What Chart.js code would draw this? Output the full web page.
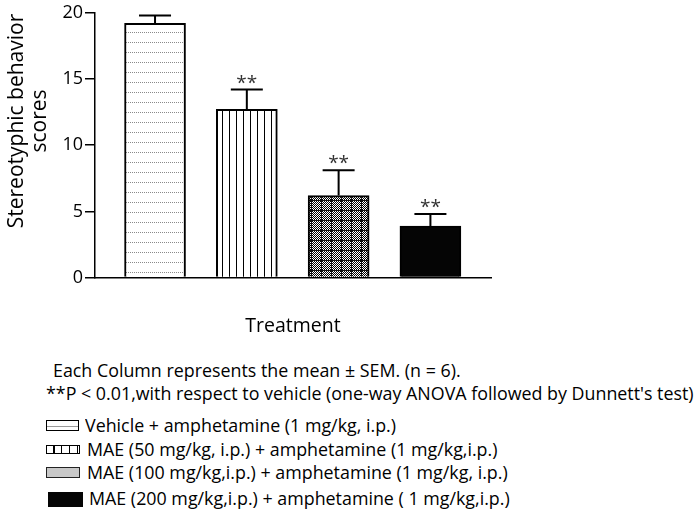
<!DOCTYPE html>
<html>
<head>
<meta charset="utf-8">
<script src="https://cdn.jsdelivr.net/npm/chart.js@4"></script>
<style>
  html, body { margin: 0; padding: 0; background: #fff; }
  #wrap { position: relative; width: 698px; height: 515px; overflow: hidden; font-family: "Open Sans", sans-serif; color: #000; }
  #chartBox { position: absolute; left: 0; top: 0; width: 698px; height: 345px; }
  .line { position: absolute; white-space: nowrap; font-size: 18.5px; line-height: 1; transform-origin: 0 0; }
  .sw { position: absolute; box-sizing: border-box; }
</style>
</head>
<body>
<div id="wrap">
  <div id="chartBox"><canvas id="c"></canvas></div>
  <div class="line" id="l1" style="left:52.7px; top:360.6px;">Each Column represents the mean ± SEM. (n = 6).</div>
  <div class="line" id="l2" style="left:46px; top:383.6px;">**P &lt; 0.01,with respect to vehicle (one-way ANOVA followed by Dunnett's test)</div>
  <div class="sw" style="left:46px; top:420px; width:33px; height:11px; border:1.5px solid #000; background:#fff;"><div style="position:absolute; left:0; right:0; top:4.5px; height:1px; background:#9a9a9a;"></div></div>
  <div class="line" id="l3" style="left:85px; top:415.6px;">Vehicle + amphetamine (1 mg/kg, i.p.)</div>
  <div class="sw" style="left:46px; top:445px; width:34px; height:9px; border:1.5px solid #000; background: repeating-linear-gradient(90deg, transparent 0 6.5px, #000 6.5px 7.7px);"></div>
  <div class="line" id="l4" style="left:87px; top:439.6px;">MAE (50 mg/kg, i.p.) + amphetamine (1 mg/kg,i.p.)</div>
  <div class="sw" style="left:46px; top:467px; width:34px; height:11px; border:1.5px solid #222; background:#c8c8c8;"></div>
  <div class="line" id="l5" style="left:87px; top:462.6px;">MAE (100 mg/kg,i.p.) + amphetamine (1 mg/kg, i.p.)</div>
  <div class="sw" style="left:48px; top:492px; width:35px; height:15px; background:#050505;"></div>
  <div class="line" id="l6" style="left:89px; top:488.6px;">MAE (200 mg/kg,i.p.) + amphetamine ( 1 mg/kg,i.p.)</div>
</div>
<script>
// ---- Data ----
const categories = [
  "Vehicle + amphetamine (1 mg/kg, i.p.)",
  "MAE (50 mg/kg, i.p.) + amphetamine (1 mg/kg,i.p.)",
  "MAE (100 mg/kg,i.p.) + amphetamine (1 mg/kg, i.p.)",
  "MAE (200 mg/kg,i.p.) + amphetamine ( 1 mg/kg,i.p.)"
];
const positions = [1, 2, 3, 4];
const means = [19.2, 12.7, 6.2, 3.9];
const sem = [0.6, 1.5, 1.9, 0.9];
const significance = ["", "**", "**", "**"];
const yTicks = [0, 5, 10, 15, 20];
const yTitleLines = ["Stereotyphic behavior", "scores"];
const xTitle = "Treatment";

// ---- Footnote condensing (to mimic a condensed face) ----
(function () {
  const l2 = document.getElementById('l2');
  const k = 648 / l2.scrollWidth;
  ['l1','l2','l3','l4','l5','l6'].forEach(id => {
    document.getElementById(id).style.transform = 'scaleX(' + k + ')';
  });
})();

// ---- Patterns ----
function makePattern(w, h, draw, dx, dy) {
  const cv = document.createElement('canvas');
  cv.width = w; cv.height = h;
  const g = cv.getContext('2d');
  draw(g, w, h);
  const ctx = document.createElement('canvas').getContext('2d');
  const p = ctx.createPattern(cv, 'repeat');
  if (dx || dy) p.setTransform(new DOMMatrix().translate(dx || 0, dy || 0));
  return p;
}
const patHoriz = makePattern(2, 10, (g) => {
  g.fillStyle = '#fff'; g.fillRect(0, 0, 2, 10);
  g.fillStyle = '#8a8a8a'; g.fillRect(0, 9, 1, 1);
}, 0, 3);
const patVert = makePattern(7, 4, (g) => {
  g.fillStyle = '#fff'; g.fillRect(0, 0, 7, 4);
  g.fillStyle = '#000'; g.fillRect(0, 0, 1, 4);
}, 5, 0);
const patCheck = makePattern(10, 10, (g) => {
  for (let y = 0; y < 10; y++) for (let x = 0; x < 10; x++) {
    g.fillStyle = ((x + y) % 2 === 0) ? '#000' : '#fff';
    g.fillRect(x, y, 1, 1);
  }
  g.fillStyle = '#111';
  g.fillRect(0, 0, 1, 10);
  g.fillRect(0, 0, 10, 1);
}, 1, 0);
const fills = [patHoriz, patVert, patCheck, '#050505'];

// ---- Plugins ----
const errorBars = {
  id: 'errorBars',
  afterDatasetsDraw(chart) {
    const ctx = chart.ctx;
    const meta = chart.getDatasetMeta(0);
    const ys = chart.scales.y;
    ctx.save();
    ctx.strokeStyle = '#000';
    ctx.lineWidth = 2;
    meta.data.forEach((bar, i) => {
      const x = bar.x;
      const yTop = ys.getPixelForValue(means[i] + sem[i]);
      const yBar = bar.y;
      ctx.beginPath();
      ctx.moveTo(x, yBar);
      ctx.lineTo(x, yTop);
      ctx.moveTo(x - 16, yTop);
      ctx.lineTo(x + 16, yTop);
      ctx.stroke();
      if (significance[i]) {
        ctx.fillStyle = '#333';
        ctx.font = '19px "Open Sans"';
        ctx.textAlign = 'center';
        ctx.textBaseline = 'alphabetic';
        ctx.fillText(significance[i], x, yTop - 1);
      }
    });
    ctx.restore();
  }
};
const yTitle = {
  id: 'yTitle',
  afterDraw(chart) {
    const ctx = chart.ctx;
    ctx.save();
    ctx.fillStyle = '#000';
    ctx.font = '21px "Open Sans"';
    ctx.textAlign = 'center';
    ctx.textBaseline = 'middle';
    const xs = [17, 40];
    yTitleLines.forEach((t, i) => {
      ctx.save();
      ctx.translate(xs[i], 121);
      ctx.rotate(-Math.PI / 2);
      ctx.fillText(t, 0, 0);
      ctx.restore();
    });
    ctx.restore();
  }
};

new Chart(document.getElementById('c'), {
  type: 'bar',
  data: {
    labels: categories,
    datasets: [{
      data: positions.map((p, i) => ({ x: p, y: means[i] })),
      backgroundColor: fills,
      borderColor: '#000',
      borderWidth: 2,
      barThickness: 61
    }]
  },
  options: {
    responsive: true,
    maintainAspectRatio: false,
    animation: false,
    layout: { padding: { left: 0, right: 207, top: 12, bottom: 0 } },
    plugins: { legend: { display: false }, tooltip: { enabled: false } },
    scales: {
      x: {
        type: 'linear',
        offset: false,
        min: 0.346,
        max: 4.66,
        grid: { display: false, drawTicks: false },
        border: { display: true, color: '#000', width: 1.5 },
        ticks: { display: false },
        title: { display: true, text: xTitle, color: '#000', font: { family: 'Open Sans', size: 19.5 }, padding: { top: 37, bottom: 7 } }
      },
      y: {
        min: 0,
        max: 20,
        afterBuildTicks(scale) { scale.ticks = yTicks.map(v => ({ value: v })); },
        afterFit(scale) { scale.width = 95; },
        grid: { display: true, drawOnChartArea: false, drawTicks: true, tickLength: 10, color: '#000', lineWidth: 1.5 },
        border: { display: true, color: '#000', width: 1.5 },
        ticks: { color: '#000', padding: 2, font: { family: 'Open Sans', size: 18 } },
        title: { display: false }
      }
    }
  },
  plugins: [errorBars, yTitle]
});
</script>
</body>
</html>
